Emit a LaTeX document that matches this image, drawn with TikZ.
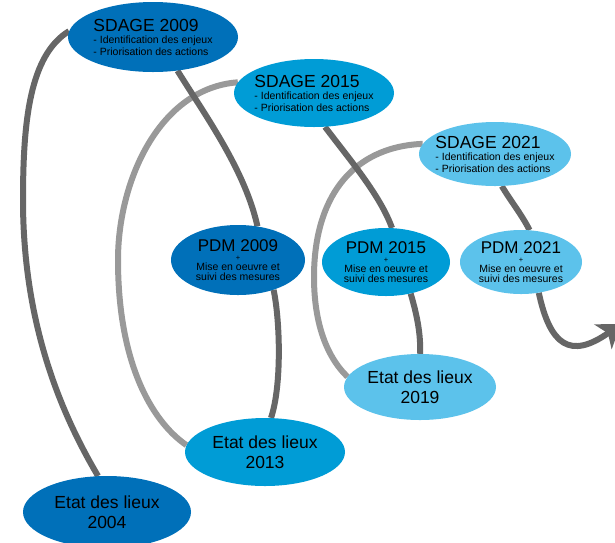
\documentclass[tikz,border=0pt]{standalone}
\usepackage{fontspec}
\setmainfont{Liberation Sans}
\usetikzlibrary{shapes.geometric,arrows.meta,backgrounds}

\definecolor{blueA}{RGB}{0,112,185}
\definecolor{blueB}{RGB}{0,156,214}
\definecolor{blueC}{RGB}{92,194,235}
\definecolor{linkdark}{RGB}{102,102,102}
\definecolor{linklight}{RGB}{153,153,153}

\tikzset{
  phase/.style={ellipse, inner sep=0pt, text=black},
  sdage/.style={phase, align=left, font=\fontsize{10.5}{12}\selectfont,
                minimum width=170pt, minimum height=70pt},
  pdm/.style={phase, align=center, font=\fontsize{10.5}{10.2}\selectfont},
  etat/.style={phase, align=center, font=\fontsize{17.5}{20.5}\selectfont},
  linkdarkst/.style={draw=linkdark, line width=6pt},
  linklightst/.style={draw=linklight, line width=6pt},
}
\newcommand\sdagetitle[1]{{\fontsize{17.5}{12}\selectfont #1}}
\newcommand\pdmbody[1]{{\fontsize{17}{12}\selectfont #1}\\[-1.5pt]{\fontsize{7.5}{8}\selectfont +}\\[0pt]Mise en oeuvre et\\suivi des mesures}

\begin{document}
\begin{tikzpicture}[x=1pt,y=-1pt]
\begin{pgfonlayer}{background}
  \fill[white] (0,0) rectangle (615,542);
\end{pgfonlayer}
\useasboundingbox (0,0) rectangle (615,542);

% SDAGE cycles (narrower ellipses keep their text, so the side padding is negative)
\node[sdage, fill=blueA] (s09) at (153,37) {\sdagetitle{SDAGE 2009}\\- Identification des enjeux\\- Priorisation des actions};
\node[sdage, fill=blueB, inner xsep=-3.5pt, minimum width=160pt, minimum height=68pt] (s15) at (314,93) {\sdagetitle{SDAGE 2015}\\- Identification des enjeux\\- Priorisation des actions};
\node[sdage, fill=blueC, inner xsep=-6.5pt, minimum width=152pt, minimum height=64pt] (s21) at (495,154) {\sdagetitle{SDAGE 2021}\\- Identification des enjeux\\- Priorisation des actions};

% programmes de mesures
\node[pdm, fill=blueA, minimum width=134pt, minimum height=70pt] (p09) at (238,260) {\pdmbody{PDM 2009}};
\node[pdm, fill=blueB, minimum width=128pt, minimum height=68pt] (p15) at (386,262) {\pdmbody{PDM 2015}};
\node[pdm, fill=blueC, minimum width=122pt, minimum height=64pt] (p21) at (521,262) {\pdmbody{PDM 2021}};

% etats des lieux
\node[etat, fill=blueA, minimum width=168pt, minimum height=72pt] (e04) at (107,512) {Etat des lieux\\2004};
\node[etat, fill=blueB, minimum width=160pt, minimum height=68pt] (e13) at (265,452) {Etat des lieux\\2013};
\node[etat, fill=blueC, minimum width=152pt, minimum height=66pt] (e19) at (420,387) {Etat des lieux\\2019};

\coordinate (next) at (621,324);

\begin{pgfonlayer}{background}
  % links from each SDAGE back to the next Etat des lieux
  \draw[linklightst] (s15.172) .. controls (160,88) and (118,180) .. (118,260)
                               .. controls (118,360) and (150,420) .. (e13.175);
  \draw[linklightst] (s21.172) .. controls (350,147) and (314,200) .. (314,277)
                               .. controls (314,320) and (325,355) .. (e19.172);
  % main cycle links
  \draw[linkdarkst] (s09.176) .. controls (30,55) and (23,120) .. (23,200)
                              .. controls (23,330) and (65,420) .. (e04.104);
  \draw[linkdarkst] (s09.-54) .. controls (205,115) and (245,170) .. (p09.60);
  \draw[linkdarkst] (p09.-40) .. controls (280,320) and (282,385) .. (e13.80);
  \draw[linkdarkst] (s15.-72) .. controls (350,160) and (380,195) .. (p15.80);
  \draw[linkdarkst] (p15.-52) .. controls (417,315) and (421,335) .. (e19.90);
  \draw[linkdarkst] (s21.-78) .. controls (510,200) and (522,215) .. (p21.75);
  \draw[linkdarkst, -{Stealth[length=22pt,width=30pt,inset=6pt]}]
        (p21.-60) .. controls (550,345) and (570,360) .. (next);
\end{pgfonlayer}
\end{tikzpicture}
\end{document}
